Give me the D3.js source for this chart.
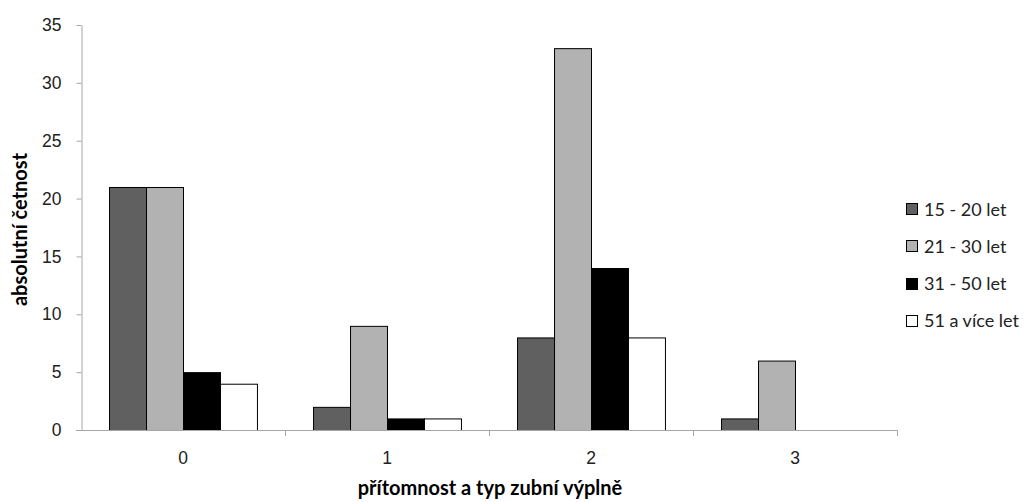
<!DOCTYPE html>
<html><head><meta charset="utf-8">
<script src="https://cdn.jsdelivr.net/npm/d3@7"></script>
<style>body{margin:0;background:#fff}svg{font-family:Lato,"Open Sans",sans-serif}</style>
</head><body><svg id="c" width="1032" height="502"></svg>
<script>
const categories = ["0","1","2","3"];
const seriesNames = ["15 - 20 let","21 - 30 let","31 - 50 let","51 a více let"];
const s1520 = [21,2,8,1];
const s2130 = [21,9,33,6];
const s3150 = [5,1,14,0];
const s51 = [4,1,8,0];
const yTicks = [0,5,10,15,20,25,30,35];
const colors = ["#606060","#b2b2b2","#000000","#ffffff"];
const allSeries = [s1520,s2130,s3150,s51];

const svg = d3.select("#c");
const L=81,R=897,T=25,B=430;
const x = d3.scaleBand().domain(categories).range([L,R]).paddingInner(0.275).paddingOuter(0.1375);
const xi = d3.scaleBand().domain(seriesNames).range([0,x.bandwidth()]);
const y = d3.scaleLinear().domain([0,35]).range([B,T]);
const axisCol="#a6a6a6";
const txtCol="#222";

// y axis
const ya = svg.append("g").attr("transform",`translate(${L+0.5},0)`)
  .call(d3.axisLeft(y).tickValues(yTicks).tickSize(5).tickSizeOuter(0).tickPadding(15));
ya.select(".domain").attr("stroke",axisCol);
ya.selectAll(".tick line").attr("stroke",axisCol);
ya.selectAll("text").attr("font-size",17.5).attr("fill",txtCol);

// bars
categories.forEach((c,ci)=>{
  allSeries.forEach((s,si)=>{
    if(s[ci]===0) return;
    svg.append("rect").attr("x",x(c)+xi(seriesNames[si])+0.5).attr("y",y(s[ci])+0.5)
      .attr("width",xi.bandwidth()).attr("height",y(0)-y(s[ci]))
      .attr("fill",colors[si]).attr("stroke","#000").attr("stroke-width",1);
  });
});

// x axis
const xa = svg.append("g").attr("transform",`translate(0,${B+0.5})`)
  .call(d3.axisBottom(x).tickSize(0).tickPadding(21));
xa.select(".domain").remove();
svg.append("line").attr("x1",L-5).attr("x2",R).attr("y1",B+0.5).attr("y2",B+0.5).attr("stroke",axisCol);
const bounds=categories.slice(1).map(c=>x(c)-x.step()*x.paddingInner()/2).concat([R]);
bounds.forEach(b=>svg.append("line").attr("x1",Math.round(b)+0.5).attr("x2",Math.round(b)+0.5).attr("y1",B).attr("y2",B+6).attr("stroke",axisCol));
xa.selectAll("text").attr("font-size",17.5).attr("fill",txtCol);

// titles
svg.append("text").attr("transform",`translate(27,${(T+B)/2+2}) rotate(-90)`).attr("text-anchor","middle")
  .attr("font-size",20).attr("font-weight","bold").attr("fill","#000").text("absolutní četnost");
svg.append("text").attr("x",490).attr("y",495).attr("text-anchor","middle")
  .attr("font-size",20).attr("font-weight","bold").attr("fill","#000").text("přítomnost a typ zubní výplně");

// legend
const lg = svg.append("g");
seriesNames.forEach((n,i)=>{
  const yy = 203 + i*37.3;
  lg.append("rect").attr("x",906.5).attr("y",Math.round(yy)+0.5).attr("width",11).attr("height",11)
    .attr("fill",colors[i]).attr("stroke","#000");
  lg.append("text").attr("x",924).attr("y",yy+12.5).attr("font-size",18).attr("fill",txtCol).text(n);
});
</script></body></html>
